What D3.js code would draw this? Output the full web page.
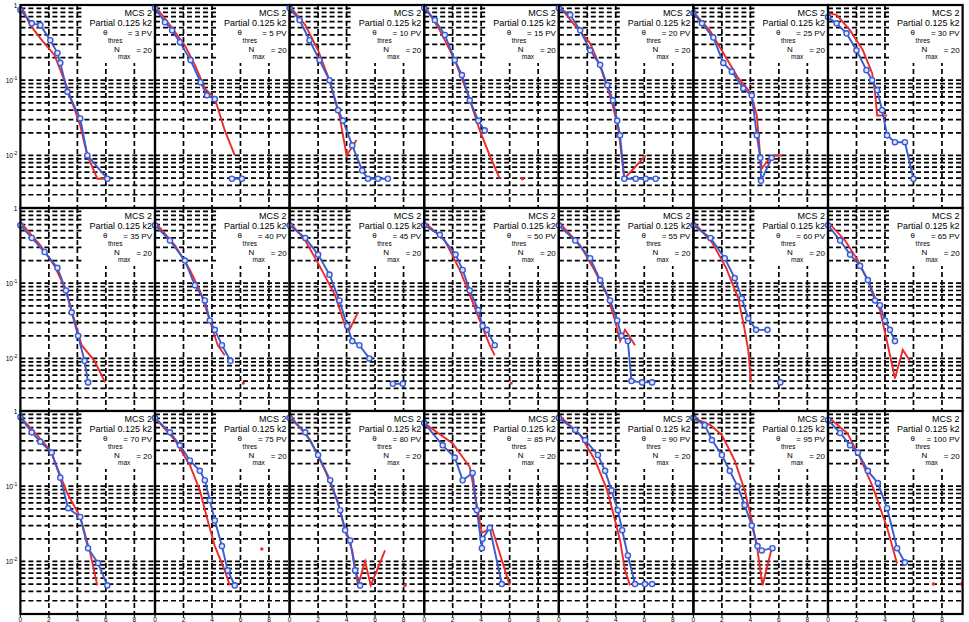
<!DOCTYPE html>
<html>
<head>
<meta charset="utf-8">
<script src="https://cdn.jsdelivr.net/npm/d3@7"></script>
<style>
  body { margin: 0; background: #fff; }
  text { font-family: "Liberation Sans", Arial, sans-serif; }
</style>
</head>
<body>
<div class="canvas"></div>
<script>
// threshold of every panel (row by row)
const thresholds = [3, 5, 10, 15, 20, 25, 30, 35, 40, 45, 50, 55, 60, 65, 70, 75, 80, 85, 90, 95, 100];
const nMax = 20;
const xTicks = [0, 2, 4, 6, 8];
const yLabels = [1, 0.1, 0.01];

// MCS 2 (blue, open circles). null = gap in the line
const mcs2 = [
  [[0,0.86],[0.8,0.57],[1.4,0.54],[2.1,0.34],[2.6,0.23],[2.8,0.17],[3.3,0.07],[4.2,0.031],[4.7,0.01],[6.1,0.0049]],
  [[0,0.91],[0.7,0.59],[1.2,0.46],[1.75,0.32],[2.5,0.185],[3.2,0.094],[3.65,0.063],[4.2,0.056],null,[5.4,0.0049],[6.1,0.0049]],
  [[0,0.91],[0.7,0.63],[1.4,0.34],[2.1,0.185],[2.8,0.1],[3.4,0.04],[3.75,0.029],[4.4,0.0136],[5.1,0.0063],[5.5,0.0049],[6.2,0.0049],[6.9,0.0049]],
  [[0,0.91],[0.75,0.63],[1.45,0.4],[2.15,0.185],[2.65,0.117],[3.2,0.054],[3.8,0.029],[4.25,0.0215]],
  [[0,0.91],[0.8,0.74],[1.5,0.46],[2.2,0.25],[2.9,0.16],[3.4,0.086],[3.8,0.054],[4.1,0.029],[4.3,0.0185],[4.6,0.0049],[5.4,0.0049],[6.1,0.0049],[6.8,0.0049]],
  [[0,0.78],[0.6,0.57],[1.4,0.37],[2.1,0.17],[2.7,0.13],[3.5,0.078],[4.1,0.063],[4.45,0.0185],[4.7,0.0093],[4.75,0.0046],[5.5,0.0093]],
  [[0,0.69],[0.6,0.57],[1.3,0.42],[2.0,0.25],[2.7,0.136],[3.1,0.1],[3.45,0.074],[3.8,0.04],[4.15,0.0185],[4.7,0.015],[5.4,0.015],[6.0,0.0049]],

  [[0,0.59],[0.8,0.4],[1.7,0.26],[2.6,0.16],[3.2,0.08],[3.6,0.041],[4.05,0.02],[4.5,0.0093],[4.75,0.0048]],
  [[0,0.59],[1.05,0.37],[2.1,0.2],[2.8,0.094],[3.5,0.059],[3.85,0.032],[4.2,0.024],[4.7,0.015],[5.3,0.0093]],
  [[0,0.59],[1.1,0.4],[2.0,0.24],[2.8,0.13],[3.5,0.059],[4.05,0.027],[4.4,0.017],[4.9,0.015],[5.6,0.01],null,[7.25,0.0046],[7.95,0.0046]],
  [[0,0.59],[1.1,0.44],[2.2,0.24],[2.7,0.15],[3.2,0.08],[3.8,0.044],[4.1,0.027],[4.4,0.024],[4.95,0.015]],
  [[0,0.59],[1.15,0.37],[2.2,0.215],[2.9,0.11],[3.6,0.059],[4.1,0.032],[4.4,0.02],[4.85,0.017],[5.1,0.005],[5.85,0.0048],[6.55,0.0048]],
  [[0,0.59],[1.2,0.4],[2.2,0.215],[2.9,0.117],[3.4,0.063],[3.85,0.034],[4.4,0.024],[5.2,0.024],null,[6.1,0.0048]],
  [[0,0.59],[0.85,0.37],[1.55,0.24],[2.25,0.17],[2.8,0.11],[3.3,0.059],[3.65,0.051],[4.0,0.032],[4.35,0.024],[4.7,0.017]],

  [[0,0.83],[0.8,0.52],[1.4,0.39],[2.2,0.28],[2.8,0.13],[3.35,0.051],[4.2,0.039],[4.75,0.015],[5.45,0.0095],[6.1,0.0048]],
  [[0,0.81],[1.05,0.52],[1.75,0.35],[2.45,0.22],[3.15,0.16],[3.5,0.12],[3.85,0.065],[4.2,0.035],[4.7,0.016],[5.1,0.0076],[5.6,0.0048]],
  [[0,0.81],[1.1,0.52],[2.0,0.26],[2.85,0.12],[3.55,0.048],[3.9,0.026],[4.25,0.019],[4.6,0.0076],[4.95,0.0048]],
  [[0,0.69],[1.3,0.35],[2.15,0.24],[2.7,0.12],[3.4,0.15],[3.7,0.048],[4.05,0.015],[4.1,0.02],[4.6,0.028],[5.45,0.005]],
  [[0,0.81],[1.15,0.56],[1.85,0.41],[2.75,0.26],[3.25,0.16],[3.7,0.088],[4.15,0.048],[4.45,0.026],[4.85,0.012],[5.35,0.005],[6.05,0.005],[6.55,0.005]],
  [[0,0.81],[0.8,0.65],[1.3,0.41],[2.0,0.26],[2.55,0.16],[3.1,0.1],[3.6,0.056],[4.1,0.03],[4.5,0.016],[4.8,0.014],[5.55,0.015]],
  [[0,0.76],[0.85,0.51],[1.55,0.35],[2.1,0.28],[2.8,0.16],[3.5,0.11],[4.15,0.051],[4.85,0.015],[5.4,0.0097]]
];

// Partial 0.125 k2 (red line)
const partial = [
  [[0,1],[0.7,0.54],[1.4,0.36],[2.4,0.215],[3.3,0.078],[4.2,0.025],[4.7,0.01],[5.4,0.0049],[6.1,0.0049]],
  [[0,0.97],[1.05,0.54],[2.1,0.29],[2.8,0.16],[3.5,0.078],[4.2,0.057],[4.9,0.0215],[5.6,0.01]],
  [[0,0.97],[1.1,0.54],[2.0,0.25],[2.8,0.1],[3.5,0.034],[4.0,0.01],[4.7,0.016]],
  [[0,1],[1.1,0.46],[2.15,0.185],[3.1,0.063],[3.9,0.0215],[4.6,0.01],[5.3,0.0049]],
  [[0,1],[1.1,0.54],[2.2,0.31],[3.0,0.136],[3.7,0.054],[4.2,0.0215],[4.6,0.0049],[6.1,0.01]],
  [[0,0.8],[1.15,0.46],[2.1,0.23],[3.1,0.11],[4.0,0.069],[4.45,0.034],[4.7,0.0093],[4.8,0.0067],[5.5,0.01],[6.25,0.01]],
  [[0,0.78],[0.6,0.74],[1.55,0.46],[2.45,0.25],[3.1,0.124],[3.3,0.069],[3.45,0.034],[4.15,0.034]],

  [[0,0.65],[1.4,0.32],[2.4,0.17],[3.2,0.08],[3.8,0.032],[4.3,0.015],[5.2,0.0093],[5.95,0.0048]],
  [[0,0.65],[1.4,0.32],[2.45,0.15],[3.15,0.08],[3.85,0.032],[4.4,0.015],[4.9,0.011]],
  [[0,0.65],[1.1,0.37],[2.1,0.17],[3.2,0.069],[3.9,0.027],[4.2,0.024],[4.8,0.041]],
  [[0,0.65],[1.45,0.37],[2.5,0.15],[3.35,0.059],[3.9,0.032],[4.6,0.015],[4.95,0.011]],
  [[0,0.65],[1.5,0.32],[2.5,0.15],[3.4,0.069],[3.95,0.032],[4.3,0.017],[4.65,0.024],[5.35,0.015]],
  [[0,0.65],[1.3,0.35],[2.3,0.16],[3.15,0.063],[3.55,0.027],[3.85,0.013],[4.05,0.0048]],
  [[0,0.65],[1.2,0.37],[2.1,0.2],[2.95,0.094],[3.65,0.044],[4.2,0.015],[4.7,0.0054],[5.25,0.013],[5.75,0.0093]],

  [[0,0.83],[1.0,0.52],[2.1,0.3],[3.3,0.08],[4.2,0.039],[4.9,0.013],[5.4,0.0048]],
  [[0,0.81],[1.4,0.41],[2.45,0.19],[3.15,0.088],[3.7,0.035],[4.2,0.016],[4.9,0.0076],[5.25,0.0048]],
  [[0,0.88],[1.45,0.41],[2.5,0.16],[3.35,0.065],[3.9,0.026],[4.4,0.014],[4.8,0.0048],[5.3,0.01],[5.7,0.0048],[6.7,0.014]],
  [[0,0.69],[2.0,0.37],[3.2,0.18],[4.05,0.024],[4.75,0.028],[6.0,0.0048]],
  [[0,0.88],[1.5,0.48],[2.55,0.22],[3.4,0.088],[3.95,0.035],[4.3,0.019],[4.65,0.0076],[5.0,0.0048]],
  [[0,0.81],[1.2,0.65],[2.0,0.48],[2.9,0.22],[3.6,0.088],[4.1,0.035],[4.5,0.014],[4.85,0.0048],[5.5,0.015]],
  [[0,0.83],[1.35,0.51],[2.25,0.24],[3.15,0.097],[4.15,0.028],[4.85,0.0094]]
];

// lone red points (no neighbour to join)
const partialDots = [
  [], [], [], [[6.9,0.0049]], [], [], [],
  [], [[6.2,0.0047]], [], [[6.1,0.0047]], [], [], [],
  [], [[7.5,0.0146]], [[8.1,0.0048]], [], [], [], [[7.4,0.005],[9.35,0.005]]
];

const svgWidth = 969, svgHeight = 622;
const plotLeft = 20.4, panelW = 134.6, plotTop = 5, panelH = 203;
const nCols = 7, nRows = 3;
const blue = "#3b5bd0", red = "#ee2b2b";

const svg = d3.select(".canvas").append("svg")
  .attr("width", svgWidth)
  .attr("height", svgHeight);

svg.append("rect").attr("width", svgWidth).attr("height", svgHeight).attr("fill", "#fff");

// minor log grid values
const gridY = [];
[1, 0.1, 0.01, 0.001].forEach(dec => {
  for (let m = 1; m <= 9; m++) {
    const v = m * dec;
    if (v <= 1 && v > 0.002) gridY.push(v);
  }
});

thresholds.forEach((thr, i) => {
  const col = i % nCols, row = Math.floor(i / nCols);
  const L = plotLeft + col * panelW;
  const T = plotTop + row * panelH;

  const x = d3.scaleLinear().domain([0, 9.45]).range([L, L + panelW]);
  const y = d3.scaleLog().domain([1, 0.002]).range([T, T + panelH]);

  const g = svg.append("g");

  // grid
  g.selectAll(".hgrid")
    .data(gridY)
    .join("line")
    .attr("x1", L).attr("x2", L + panelW)
    .attr("y1", d => y(d)).attr("y2", d => y(d))
    .attr("stroke", "#000")
    .attr("stroke-width", 1.7)
    .attr("stroke-dasharray", "5,3");

  g.selectAll(".vgrid")
    .data(xTicks.slice(1))
    .join("line")
    .attr("x1", d => x(d)).attr("x2", d => x(d))
    .attr("y1", T).attr("y2", T + panelH)
    .attr("stroke", "#000")
    .attr("stroke-width", 1.7)
    .attr("stroke-dasharray", "5,3");

  // legend box
  const R = L + panelW;
  g.append("rect")
    .attr("x", R - 72).attr("y", T + 1)
    .attr("width", 71).attr("height", 57)
    .attr("fill", "#fff");

  g.append("text").attr("x", R - 3).attr("y", T + 11).attr("text-anchor", "end")
    .attr("font-size", 9).text("MCS 2");
  g.append("text").attr("x", R - 3).attr("y", T + 21).attr("text-anchor", "end")
    .attr("font-size", 9).text("Partial 0.125 k2");
  g.append("text").attr("x", R - 52).attr("y", T + 30)
    .attr("font-size", 8).text("θ");
  g.append("text").attr("x", R - 47).attr("y", T + 38)
    .attr("font-size", 6.5).text("thres");
  g.append("text").attr("x", R - 3).attr("y", T + 31).attr("text-anchor", "end")
    .attr("font-size", 8).text("= " + thr + " PV");
  g.append("text").attr("x", R - 41).attr("y", T + 47)
    .attr("font-size", 8).text("N");
  g.append("text").attr("x", R - 37).attr("y", T + 54)
    .attr("font-size", 6.5).text("max");
  g.append("text").attr("x", R - 3).attr("y", T + 48).attr("text-anchor", "end")
    .attr("font-size", 8).text("= " + nMax);

  const line = d3.line()
    .defined(d => d !== null)
    .x(d => x(d[0]))
    .y(d => y(d[1]));

  g.append("path")
    .datum(partial[i])
    .attr("d", line)
    .attr("fill", "none")
    .attr("stroke", red)
    .attr("stroke-width", 1.9);

  g.selectAll(".rdot")
    .data(partialDots[i])
    .join("circle")
    .attr("cx", d => x(d[0])).attr("cy", d => y(d[1]))
    .attr("r", 1.7)
    .attr("fill", red);

  g.append("path")
    .datum(mcs2[i])
    .attr("d", line)
    .attr("fill", "none")
    .attr("stroke", blue)
    .attr("stroke-width", 1.9);

  g.selectAll(".bdot")
    .data(mcs2[i].filter(d => d !== null))
    .join("circle")
    .attr("cx", d => x(d[0])).attr("cy", d => y(d[1]))
    .attr("r", 2.6)
    .attr("fill", "#dfe6ff")
    .attr("stroke", blue)
    .attr("stroke-width", 1.4);

  // panel frame
  g.append("rect")
    .attr("x", L).attr("y", T)
    .attr("width", panelW).attr("height", panelH)
    .attr("fill", "none")
    .attr("stroke", "#000")
    .attr("stroke-width", 2.2);

  // bottom ticks and labels
  if (row === nRows - 1) {
    g.selectAll(".xt")
      .data(xTicks)
      .join("line")
      .attr("x1", d => x(d)).attr("x2", d => x(d))
      .attr("y1", T + panelH).attr("y2", T + panelH + 3)
      .attr("stroke", "#000");
    g.selectAll(".xl")
      .data(xTicks)
      .join("text")
      .attr("x", d => x(d)).attr("y", T + panelH + 8)
      .attr("text-anchor", "middle")
      .attr("font-size", 6.5)
      .text(d => d);
  }

  // left labels
  if (col === 0) {
    yLabels.forEach(v => {
      const t = g.append("text")
        .attr("x", L - 3).attr("y", y(v) + 3)
        .attr("text-anchor", "end")
        .attr("font-size", 6.5);
      if (v === 1) t.text("1");
      else {
        t.append("tspan").text("10");
        t.append("tspan").attr("dy", -3).attr("font-size", 5).text(Math.round(Math.log10(v)));
      }
    });
  }
});
</script>
</body>
</html>
